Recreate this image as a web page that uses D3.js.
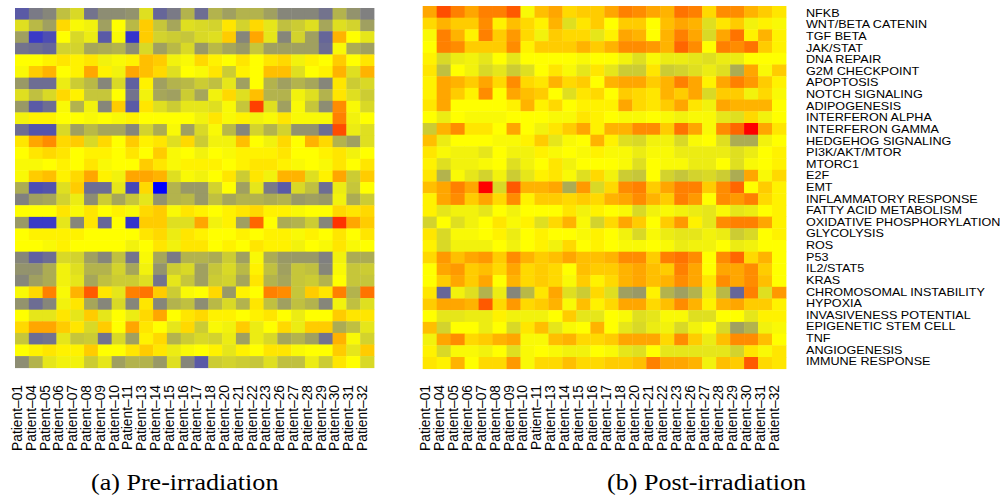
<!DOCTYPE html>
<html lang="en">

<head>
  <meta charset="utf-8">
  <title>Pathway scores heatmap</title>
  <script type="text/javascript" src="https://cdn.jsdelivr.net/npm/d3@7/dist/d3.min.js"></script>
  <style>
    body { margin: 0; background: #fff; }
    text { font-family: "Liberation Sans", Arial, Helvetica, sans-serif; fill: #000; }
    .caption { font-family: "Liberation Serif", "Times New Roman", serif; }
  </style>
</head>

<body>

  <script type="text/javascript">

    // Column labels (patients)
    var patients = ["Patient–01", "Patient–04", "Patient–05", "Patient–06", "Patient–07", "Patient–08",
      "Patient–09", "Patient–10", "Patient–11", "Patient–13", "Patient–14", "Patient–15", "Patient–16",
      "Patient–17", "Patient–18", "Patient–20", "Patient–21", "Patient–22", "Patient–23", "Patient–26",
      "Patient–27", "Patient–28", "Patient–29", "Patient–30", "Patient–31", "Patient–32"];

    // Row labels (pathways)
    var pathways = ["NFKB", "WNT/BETA CATENIN", "TGF BETA", "JAK/STAT", "DNA REPAIR", "G2M CHECKPOINT",
      "APOPTOSIS", "NOTCH SIGNALING", "ADIPOGENESIS", "INTERFERON ALPHA", "INTERFERON GAMMA",
      "HEDGEHOG SIGNALING", "PI3K/AKT/MTOR", "MTORC1", "E2F", "EMT", "INFLAMMATORY RESPONSE",
      "FATTY ACID METABOLISM", "OXIDATIVE PHOSPHORYLATION", "GLYCOLYSIS", "ROS", "P53", "IL2/STAT5",
      "KRAS", "CHROMOSOMAL INSTABILITY", "HYPOXIA", "INVASIVENESS POTENTIAL", "EPIGENETIC STEM CELL",
      "TNF", "ANGIOGENESIS", "IMMUNE RESPONSE"];

    // Pathway scores, pre-irradiation (one row per pathway, one value per patient)
    var preScores = [
      [7, 9.5, 10.5, 15, 17, 9, 11, 11, 11.5, 17.5, 8, 9.5, 14, 8.5, 14, 12.5, 14, 14, 12.5, 10.5, 10.5, 10.5, 9, 14, 11.5, 10],
      [17.5, 14.5, 12.5, 21.5, 19.5, 19, 12.5, 20, 14.5, 22, 15.5, 13, 17.5, 17, 16.5, 21, 16.5, 21.5, 18, 15, 16, 17.5, 13, 17.5, 16.5, 12.5],
      [12.5, 4.5, 6, 20, 17, 18.5, 7, 19.5, 4, 22, 16.5, 16, 15.5, 17, 17.5, 22, 10.5, 23.5, 18, 10.5, 16.5, 12.5, 8, 23, 20, 18],
      [9, 8.5, 8, 16.5, 16.5, 13, 13.5, 14, 11, 17, 12.5, 14.5, 17, 12, 14.5, 13, 12, 15.5, 12.5, 12.5, 12.5, 12.5, 8.5, 19.5, 13.5, 12.5],
      [20, 20, 20.5, 21, 20.5, 21, 19, 19.5, 20.5, 22.5, 22, 19, 19.5, 21.5, 20.5, 20, 21, 20, 21, 21.5, 19, 20.5, 20, 22, 20, 21],
      [19.5, 22, 23, 20, 20.5, 23.5, 20.5, 19, 23.5, 22.5, 21.5, 17.5, 20, 19.5, 21, 16, 20.5, 20, 22.5, 22.5, 17.5, 20, 20.5, 23, 17.5, 23],
      [12, 8.5, 8.5, 18.5, 16, 14.5, 10.5, 17, 7.5, 20.5, 12.5, 14, 14.5, 16, 15, 18, 12.5, 20, 14, 12.5, 14, 13, 10.5, 21, 16, 17],
      [17.5, 15, 17, 21.5, 20.5, 15.5, 15.5, 20, 9, 19, 13, 12.5, 16, 13, 19, 21.5, 17.5, 22.5, 14, 14, 19, 17.5, 14, 21, 17.5, 16],
      [12, 7, 8.5, 19.5, 14, 19, 10.5, 22, 7, 21, 17.5, 16, 18, 18, 17.5, 19.5, 15.5, 27.5, 17.5, 12.5, 19.5, 15.5, 11, 24.5, 19.5, 17],
      [19, 20.5, 20.5, 20, 20, 19.5, 20, 19.5, 20.5, 20, 20, 20, 20, 19, 21, 19.5, 20.5, 19, 19.5, 21, 19.5, 19.5, 19.5, 25, 19, 20],
      [8.5, 6.5, 6.5, 17, 12.5, 14.5, 13, 13, 10.5, 16.5, 13.5, 19.5, 12.5, 17, 19.5, 14.5, 10.5, 16.5, 14, 16.5, 11.5, 11.5, 8.5, 27, 18.5, 17.5],
      [21, 23.5, 24.5, 21.5, 22, 17, 21.5, 20, 22, 20.5, 21, 17.5, 21.5, 16, 19, 19, 22.5, 20, 19, 21.5, 20, 23, 21.5, 14, 12.5, 17.5],
      [20, 21, 21.5, 21, 20, 20.5, 20.5, 20, 21, 20, 22, 19.5, 20, 19, 20, 19.5, 20.5, 20.5, 20.5, 21, 20, 20, 20.5, 21, 19, 20],
      [19.5, 19.5, 20, 20.5, 20, 21, 19.5, 20, 20, 22, 21, 19.5, 20.5, 20.5, 20.5, 20, 20.5, 21, 21, 20.5, 19.5, 20, 19.5, 21, 20, 21],
      [19.5, 22, 22.5, 20.5, 21.5, 23.5, 20.5, 19, 23.5, 23.5, 23, 17.5, 19.5, 19, 20, 21, 16, 21, 19, 23, 23, 17.5, 20.5, 23.5, 16, 22],
      [13.5, 6, 6.5, 17.5, 22, 8.5, 8.5, 18, 5.5, 21.5, 0, 14, 12, 12, 16.5, 20, 12.5, 18, 9.5, 7, 17, 15, 8.5, 18.5, 15.5, 20],
      [10, 12.5, 13, 16.5, 18.5, 11, 16, 13, 15.5, 18, 11.5, 14, 14.5, 12, 15, 13, 14, 14, 13.5, 14, 12, 12.5, 12, 19, 13.5, 16],
      [20, 20, 20, 21, 19.5, 21, 20, 20.5, 19.5, 21.5, 22, 19.5, 21, 20.5, 20, 20.5, 21, 21.5, 20.5, 20.5, 19.5, 20, 20, 21.5, 21, 21.5],
      [12, 4.5, 4.5, 18, 10.5, 21, 8, 20, 4, 22, 22, 17.5, 17.5, 23.5, 19, 20.5, 12.5, 26, 20, 13.5, 14, 16, 10.5, 28, 23.5, 22],
      [20, 20.5, 20.5, 20.5, 20.5, 20, 20, 20, 20, 21, 21.5, 18.5, 21, 20.5, 20, 20, 20.5, 20, 20.5, 20.5, 19.5, 20.5, 20, 21, 20, 21],
      [20, 20, 19.5, 20.5, 20, 20, 20, 20, 19, 20, 21, 19, 21, 21, 20, 20.5, 20, 21, 20.5, 20.5, 19, 20, 19.5, 21, 19.5, 20],
      [10.5, 7.5, 8.5, 17, 16.5, 12.5, 10.5, 15, 9, 19.5, 13, 9.5, 14, 14, 13.5, 16, 12.5, 19.5, 13.5, 12, 12, 12, 10, 19, 13.5, 13.5],
      [11.5, 11.5, 13.5, 19, 17.5, 14, 14, 16.5, 13, 19, 11.5, 16, 17, 12.5, 15.5, 17, 14.5, 20.5, 15, 12.5, 15.5, 15, 10.5, 19.5, 15.5, 16],
      [10.5, 12.5, 13.5, 19, 18, 13, 15, 16, 16, 17.5, 9, 18, 15.5, 12.5, 16, 16.5, 13, 21, 14, 13, 15.5, 16, 14, 20, 15.5, 15.5],
      [19.5, 21.5, 25, 19.5, 23, 26.5, 21, 18, 25, 25.5, 22, 16, 19.5, 20, 21.5, 12, 20.5, 20, 25, 24.5, 15.5, 22, 21, 25, 14, 25.5],
      [11.5, 8.5, 10.5, 19, 21, 13, 10.5, 17, 10.5, 21, 10.5, 14, 15, 11, 14.5, 17, 14, 21, 15, 12.5, 15, 14, 10.5, 19, 15, 17.5],
      [20, 18, 18, 21, 18, 22, 18, 20, 18.5, 21.5, 23.5, 20, 21, 21.5, 20.5, 20.5, 20, 20.5, 21, 20, 18.5, 20, 20, 22, 21, 21],
      [21.5, 23.5, 23.5, 22, 21, 17, 22, 20, 23.5, 21, 20, 18, 21.5, 16, 19.5, 19, 22, 18.5, 20, 21.5, 18.5, 22, 22, 13.5, 15, 18],
      [15.5, 8.5, 9, 18, 15.5, 16, 9, 17, 12.5, 20.5, 21.5, 14, 16, 17, 16.5, 18.5, 12.5, 18.5, 17, 13, 14, 12.5, 9, 23, 19.5, 16.5],
      [20, 20.5, 21, 20.5, 20.5, 22, 20, 20, 21, 22, 21, 18.5, 19.5, 20, 20.5, 18, 20.5, 20, 21, 21, 19.5, 20, 20, 22, 18, 22],
      [11, 14, 18, 19, 19, 16, 18, 12.5, 14, 14, 12, 17.5, 10.5, 7, 16, 16.5, 16, 15.5, 17.5, 15, 15, 18.5, 16, 21, 20, 17]
    ];

    // Pathway scores, post-irradiation
    var postScores = [
      [23.5, 27, 25, 23.5, 25, 25, 26.5, 19.5, 22.5, 23.5, 21.5, 22, 22, 23.5, 25, 24.5, 23.5, 23, 25.5, 25, 21.5, 24.5, 24.5, 23, 22, 21],
      [21.5, 23, 22, 22, 24.5, 20.5, 22.5, 21.5, 20.5, 23, 17.5, 21, 22, 20, 22, 22, 20, 22.5, 23.5, 23, 17.5, 21, 22, 19, 20.5, 19.5],
      [19.5, 25, 23, 20.5, 25, 22, 24, 21.5, 19, 22, 21.5, 21.5, 18, 20.5, 23.5, 23, 20, 23, 25, 23.5, 17, 23.5, 25.5, 20.5, 23, 20.5],
      [20, 25, 24.5, 22, 22, 22, 24.5, 20.5, 22, 22, 22, 23, 22, 23, 24.5, 24.5, 24, 23, 26, 24.5, 20, 25, 24.5, 25.5, 22, 20.5],
      [20.5, 17, 18.5, 19, 18, 20, 18, 20, 20, 20, 20, 19.5, 20, 20, 19, 17.5, 19.5, 18.5, 18.5, 18, 17.5, 18.5, 18.5, 20, 20, 20],
      [21, 15, 20, 19, 17, 18, 16, 17.5, 20, 21, 19.5, 18, 21, 18, 16, 16, 21, 16, 16.5, 17.5, 18.5, 17.5, 13.5, 23.5, 19.5, 22],
      [20.5, 23.5, 23, 22, 23.5, 21.5, 24.5, 21.5, 21, 23, 21.5, 22, 20, 23, 23.5, 23.5, 22, 23, 25, 23.5, 20.5, 23.5, 25, 24, 22, 20.5],
      [20.5, 23.5, 22, 20.5, 24.5, 20, 23.5, 22.5, 22, 20, 17.5, 21, 21.5, 20, 22, 21.5, 21, 23, 22, 23.5, 17, 22, 22, 19, 21.5, 19.5],
      [21, 23.5, 20, 20, 20, 20, 20.5, 23, 20.5, 21.5, 20, 20.5, 20.5, 20.5, 23.5, 21.5, 21, 22, 23.5, 21, 19, 23.5, 23, 23, 23, 20],
      [20, 18.5, 20, 19.5, 19.5, 19.5, 20, 20, 20, 19.5, 19.5, 21, 20.5, 20, 19.5, 19.5, 20, 19.5, 19, 19.5, 19.5, 18, 17.5, 21.5, 19, 20],
      [16, 23, 24.5, 21, 21, 20, 23.5, 20, 19, 21, 22, 23.5, 20.5, 23, 23, 24.5, 24.5, 22, 25.5, 23.5, 19.5, 24.5, 26, 30, 23.5, 21],
      [22.5, 18.5, 20, 20, 20, 19.5, 19.5, 20.5, 22, 18, 19.5, 20, 23, 20.5, 17.5, 17, 19, 19, 17, 19.5, 20, 17.5, 13.5, 13.5, 19, 20],
      [21, 19.5, 19, 19, 18, 20, 19, 19, 20.5, 19.5, 20, 19.5, 20.5, 19.5, 19.5, 18.5, 19.5, 19.5, 18.5, 18.5, 18.5, 18.5, 17.5, 18.5, 20, 20.5],
      [20.5, 17.5, 19, 19, 19.5, 20, 17.5, 19, 20, 21, 19, 20, 20, 20, 19.5, 17.5, 20, 19.5, 19.5, 18.5, 18.5, 20, 17.5, 19.5, 20, 20.5],
      [21, 14, 19.5, 18, 16.5, 19, 16, 18, 20.5, 21, 19.5, 17.5, 21.5, 19, 16, 15.5, 20, 16.5, 15.5, 16.5, 17, 16, 13.5, 23.5, 19.5, 21.5],
      [22.5, 23.5, 25, 23.5, 30, 17, 26.5, 23, 23, 23.5, 13.5, 24, 17, 21.5, 24.5, 25, 22, 23.5, 25, 25, 22, 24.5, 26, 20, 22, 20.5],
      [20.5, 23.5, 24.5, 22, 23.5, 21.5, 24.5, 20.5, 22, 22, 21.5, 22, 21.5, 23, 23.5, 24.5, 23, 22, 25, 24, 20, 24.5, 24, 25, 21.5, 20.5],
      [20.5, 18, 19, 19, 18, 20, 19, 20, 20, 20, 21, 19, 20.5, 20, 19.5, 17, 19, 19.5, 19, 18.5, 18, 19.5, 18, 18.5, 20, 20.5],
      [16.5, 20, 17.5, 19, 20, 21, 19.5, 20.5, 17.5, 21.5, 23, 19.5, 16.5, 21.5, 23.5, 22, 20, 22, 24, 20.5, 18, 24.5, 25, 25, 23.5, 20.5],
      [21, 17, 19.5, 19.5, 20, 20.5, 18.5, 20, 20.5, 20, 20, 19.5, 20.5, 20, 19, 17, 19.5, 18.5, 18, 18, 19, 18.5, 16, 17, 20, 20.5],
      [20.5, 17, 19, 19, 19, 20, 19, 20, 20.5, 19, 21.5, 20, 20.5, 20, 19.5, 19.5, 20, 19.5, 18.5, 19, 19, 20, 18.5, 19, 20, 20],
      [21.5, 24, 22.5, 23.5, 24, 22, 24.5, 23, 22, 22.5, 23.5, 22.5, 22.5, 23, 24.5, 24.5, 22, 25, 25.5, 24.5, 20, 24.5, 26, 21.5, 23, 20],
      [20, 23.5, 24, 22, 22.5, 21.5, 23.5, 21.5, 22, 21.5, 20, 22.5, 22, 22, 23, 23.5, 22.5, 22, 25, 23.5, 20, 23.5, 23.5, 24.5, 22, 20],
      [20, 22, 23.5, 22, 23.5, 20, 23, 21.5, 22, 21.5, 19.5, 22, 20.5, 21.5, 23, 23.5, 22.5, 23, 24.5, 23.5, 21, 24.5, 23.5, 24.5, 22.5, 20],
      [21, 8, 19, 17.5, 14, 18.5, 10.5, 14.5, 21, 23.5, 17.5, 16, 21.5, 17.5, 12.5, 12, 20.5, 14, 12.5, 14, 18.5, 14.5, 8, 25, 17.5, 24],
      [22, 23.5, 23.5, 23, 26.5, 21.5, 24, 21.5, 22, 23, 19.5, 22.5, 20.5, 21.5, 23.5, 23.5, 21.5, 22.5, 24.5, 23, 20.5, 23, 23.5, 22, 22, 20.5],
      [20, 18, 18, 18.5, 18.5, 20.5, 19, 19, 19, 20, 22, 18, 18, 20, 19.5, 17.5, 18, 19.5, 19.5, 17.5, 17.5, 20, 20, 18, 20.5, 20.5],
      [22.5, 16.5, 20, 20, 18.5, 20, 17, 21, 22.5, 18, 19.5, 20, 23, 20, 18, 17, 18.5, 19, 17, 19, 20, 17, 12.5, 14, 19, 19.5],
      [19, 23.5, 24.5, 21.5, 22, 23, 23.5, 19.5, 19.5, 22.5, 23, 21.5, 21.5, 22, 23.5, 23.5, 23.5, 21.5, 24.5, 22, 18.5, 22.5, 24.5, 24.5, 22.5, 20],
      [20.5, 17, 19.5, 19.5, 19, 20, 17.5, 19.5, 20, 19.5, 19, 19, 20, 19.5, 18, 17.5, 20, 18, 18, 18, 18, 18, 16.5, 21, 19.5, 21],
      [21, 20.5, 23, 20, 21.5, 21.5, 24, 19.5, 21.5, 21.5, 22.5, 21.5, 21.5, 22, 22, 22.5, 25, 23.5, 23.5, 23, 19, 22.5, 22, 26.5, 21.5, 21]
    ];

    var w = 1005;
    var h = 498;

    // blue -> grey -> yellow -> red colour key
    var color = d3.scaleLinear()
      .domain([0, 10, 20, 30])
      .range(["#0000ff", "#808080", "#ffff00", "#ff0000"]);

    var svg = d3.select("body")
      .append("svg")
      .attr("width", w)
      .attr("height", h);

    svg.append("rect")
      .attr("width", w)
      .attr("height", h)
      .attr("fill", "#fff");

    // draws one heatmap panel with its patient axis
    function drawPanel(scores, x0, x1, y0, y1) {
      var xScale = d3.scaleBand()
        .domain(patients)
        .range([x0, x1]);

      var yScale = d3.scaleBand()
        .domain(pathways)
        .range([y0, y1]);

      var cells = [];
      scores.forEach(function (row, i) {
        row.forEach(function (v, j) {
          cells.push({ pathway: pathways[i], patient: patients[j], value: v });
        });
      });

      svg.append("g")
        .selectAll("rect")
        .data(cells)
        .enter()
        .append("rect")
        .attr("x", function (d) { return xScale(d.patient); })
        .attr("y", function (d) { return yScale(d.pathway); })
        .attr("width", xScale.bandwidth() + 0.4)
        .attr("height", yScale.bandwidth() + 0.4)
        .attr("fill", function (d) { return color(d.value); });

      // patient labels, rotated
      var xAxis = d3.axisBottom(xScale)
        .tickSize(0)
        .tickPadding(0);

      var gx = svg.append("g")
        .attr("transform", "translate(0," + 385 + ")")
        .call(xAxis);
      gx.select(".domain").remove();
      gx.selectAll("text")
        .attr("transform", "rotate(-90)")
        .attr("x", 0)
        .attr("y", 0)
        .attr("dy", "0")
        .style("text-anchor", "end")
        .style("font-size", "13.8px")
        .attr("font-family", null);

      return yScale;
    }

    drawPanel(preScores, 15, 374, 8, 367.7);
    drawPanel(postScores, 422.7, 786, 6, 368.7);

    // pathway labels at the right of the second panel
    var yLabel = d3.scaleBand()
      .domain(pathways)
      .range([7, 367]);

    var yAxis = d3.axisRight(yLabel)
      .tickSize(0)
      .tickPadding(0);

    var gy = svg.append("g")
      .attr("transform", "translate(806,0)")
      .call(yAxis);
    gy.select(".domain").remove();
    gy.selectAll("text")
      .attr("x", 0)
      .attr("dy", "0.38em")
      .attr("transform", "scale(1.2,1)")
      .style("font-size", "10.5px")
      .attr("font-family", null);

    // sub-figure captions
    svg.append("text")
      .attr("class", "caption")
      .attr("transform", "translate(91,490) scale(1.1,1)")
      .style("font-size", "23.7px")
      .text("(a) Pre-irradiation");

    svg.append("text")
      .attr("class", "caption")
      .attr("transform", "translate(607,490) scale(1.1,1)")
      .style("font-size", "23.7px")
      .text("(b) Post-irradiation");

  </script>

</body>

</html>
